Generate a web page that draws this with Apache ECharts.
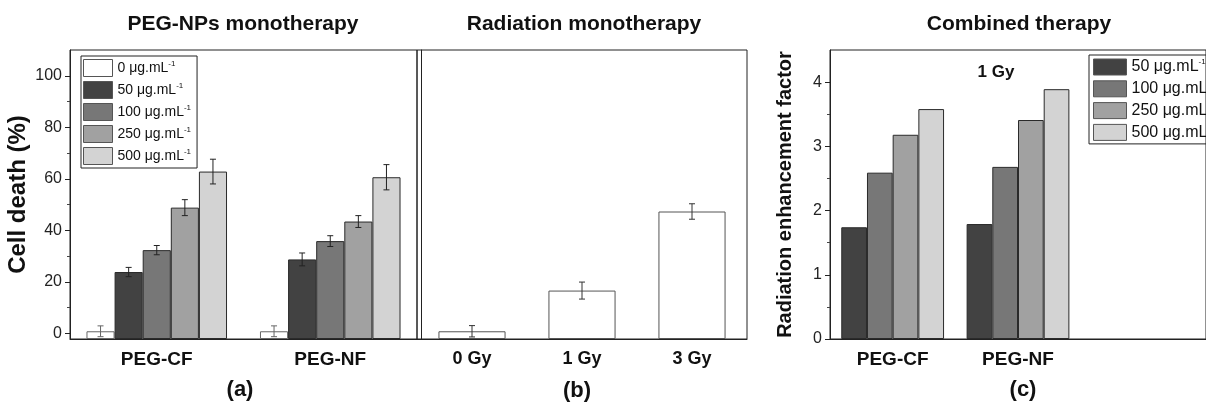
<!DOCTYPE html>
<html>
<head>
<meta charset="utf-8">
<title>Cell death / radiation enhancement</title>
<script src="https://cdn.jsdelivr.net/npm/echarts@6.0.0/dist/echarts.min.js"></script>
<style>
  html, body { margin: 0; padding: 0; background: #fff; }
  #chart { width: 1206px; height: 404px; }
</style>
</head>
<body>
<div id="chart"></div>
<script>
// ---- data ----
var groups = ['PEG-CF', 'PEG-NF'];
var concNames = ['0 μg.mL', '50 μg.mL', '100 μg.mL', '250 μg.mL', '500 μg.mL'];
var conc0 = [0.8, 0.8];
var conc50 = [23.8, 28.7];
var conc100 = [32.3, 35.8];
var conc250 = [48.8, 43.4];
var conc500 = [62.8, 60.6];
var err0 = [2.1, 2.1];
var err50 = [1.8, 2.5];
var err100 = [1.8, 2.1];
var err250 = [3.1, 2.3];
var err500 = [4.8, 4.9];

var doses = ['0 Gy', '1 Gy', '3 Gy'];
var radVals = [0.8, 16.6, 47.3];
var radErr = [2.2, 3.3, 3.0];

var groupsC = ['PEG-CF', 'PEG-NF', ''];
var ref50 = [1.74, 1.79];
var ref100 = [2.59, 2.68];
var ref250 = [3.18, 3.41];
var ref500 = [3.58, 3.89];

var deathLabels = [0, 20, 40, 60, 80, 100];
var deathMinor = [10, 30, 50, 70, 90];
var refLabels = [0, 1, 2, 3, 4];
var refMinor = [0.5, 1.5, 2.5, 3.5];

var fills = ['#ffffff', '#424242', '#777777', '#a1a1a1', '#d3d3d3'];
var FONT = '"Liberation Sans", Arial, sans-serif';

var chart = echarts.init(document.getElementById('chart'));

// error bars drawn over grouped bars
function errSeries(vals, errs, idx, nBars, gap, xi, yi, color) {
    var data = [];
    for (var i = 0; i < vals.length; i++) data.push([i, vals[i], errs[i]]);
    return {
        type: 'custom', xAxisIndex: xi, yAxisIndex: yi, z: 5, silent: true,
        data: data,
        renderItem: function (params, api) {
            var c = api.value(0), v = api.value(1), e = api.value(2);
            var band = api.size([1, 0])[0];
            var bw = band * (1 - gap) / nBars;
            var x = api.coord([c, v])[0] + (idx - (nBars - 1) / 2) * bw;
            var yt = api.coord([c, v + e])[1];
            var yb = api.coord([c, v - e])[1];
            var st = { stroke: color, lineWidth: 1 };
            return { type: 'group', children: [
                { type: 'line', shape: { x1: x, y1: yt, x2: x, y2: yb }, style: st },
                { type: 'line', shape: { x1: x - 3, y1: yt, x2: x + 3, y2: yt }, style: st },
                { type: 'line', shape: { x1: x - 3, y1: yb, x2: x + 3, y2: yb }, style: st }
            ]};
        }
    };
}

function barSeries(name, vals, color, xi, yi, gap, border) {
    return {
        name: name, type: 'bar', xAxisIndex: xi, yAxisIndex: yi,
        data: vals, barGap: 0, barCategoryGap: gap,
        itemStyle: { color: color, borderColor: border || '#2a2a2a', borderWidth: 1 }
    };
}

var legendFmt = function (name) { return '{t|' + name + '}{s|-1}'; };
function legendRich(fs) {
    return {
        t: { fontSize: fs, fontFamily: FONT, color: '#111', lineHeight: fs + 2 },
        s: { fontSize: 8, fontFamily: FONT, color: '#111', lineHeight: 8, verticalAlign: 'top' }
    };
}

var tickLbl = { fontSize: 16, color: '#222', fontFamily: FONT };
function catLbl(fs) {
    return { fontSize: fs, fontWeight: 'bold', color: '#111', fontFamily: FONT, margin: 11 };
}
var axLine = { show: true, onZero: false, lineStyle: { color: '#222', width: 1 } };
var noLine = { show: false, onZero: false };

var aGap = 0.19, bGap = 0.39, cGap = 0.18;
var titleStyle = { fontSize: 21, fontWeight: 'bold', color: '#111' };
var panelStyle = { fontSize: 22, fontWeight: 'bold', color: '#111' };

var option = {
    animation: false,
    textStyle: { fontFamily: FONT },
    title: [
        { text: 'PEG-NPs monotherapy', left: 243, top: 14, textAlign: 'center', padding: 0, textStyle: titleStyle },
        { text: 'Radiation monotherapy', left: 584, top: 14, textAlign: 'center', padding: 0, textStyle: titleStyle },
        { text: 'Combined therapy', left: 1019, top: 14, textAlign: 'center', padding: 0, textStyle: titleStyle },
        { text: '1 Gy', left: 996, top: 64, textAlign: 'center', padding: 0,
          textStyle: { fontSize: 17, fontWeight: 'bold', color: '#111' } },
        { text: '(a)', left: 240, top: 379, textAlign: 'center', padding: 0, textStyle: panelStyle },
        { text: '(b)', left: 577, top: 380, textAlign: 'center', padding: 0, textStyle: panelStyle },
        { text: '(c)', left: 1023, top: 379, textAlign: 'center', padding: 0, textStyle: panelStyle }
    ],
    legend: [
        { data: concNames, orient: 'vertical', left: 81, top: 56, icon: 'rect',
          itemWidth: 29, itemHeight: 17, itemGap: 4, padding: [3, 6, 3, 2],
          borderColor: '#222', borderWidth: 1, selectedMode: false,
          itemStyle: { borderColor: '#555', borderWidth: 1 },
          formatter: legendFmt, textStyle: { rich: legendRich(14) } },
        { data: concNames.slice(1), orient: 'vertical', left: 1089, top: 55, icon: 'rect',
          itemWidth: 33, itemHeight: 16, itemGap: 4.3, padding: [3, 30, 3, 4],
          borderColor: '#222', borderWidth: 1, selectedMode: false,
          itemStyle: { borderColor: '#555', borderWidth: 1 },
          formatter: legendFmt, textStyle: { rich: legendRich(16) } }
    ],
    grid: [
        { left: 70, right: 1206 - 417, top: 50, bottom: 65, show: true, borderColor: '#222', borderWidth: 1 },
        { left: 417, right: 1206 - 747, top: 50, bottom: 65, show: true, borderColor: '#222', borderWidth: 1 },
        { left: 830, right: -28, top: 50, bottom: 65, show: true, borderColor: '#222', borderWidth: 1 }
    ],
    xAxis: [
        { type: 'category', gridIndex: 0, position: 'bottom', data: groups, axisLine: axLine,
          axisTick: { alignWithLabel: true, length: 6, lineStyle: { color: '#222' } },
          axisLabel: catLbl(19) },
        { type: 'category', gridIndex: 0, position: 'bottom', data: groups, axisLine: noLine,
          axisTick: { length: 3, lineStyle: { color: '#444' } }, axisLabel: { show: false } },
        { type: 'category', gridIndex: 1, position: 'bottom', data: doses, axisLine: axLine,
          axisTick: { alignWithLabel: true, length: 6, lineStyle: { color: '#222' } },
          axisLabel: catLbl(18) },
        { type: 'category', gridIndex: 1, position: 'bottom', data: doses, axisLine: noLine,
          axisTick: { length: 3, lineStyle: { color: '#444' } }, axisLabel: { show: false } },
        { type: 'category', gridIndex: 2, position: 'bottom', data: groupsC, axisLine: axLine,
          axisTick: { alignWithLabel: true, length: 6, lineStyle: { color: '#222' } },
          axisLabel: catLbl(19) },
        { type: 'category', gridIndex: 2, position: 'bottom', data: groupsC, axisLine: noLine,
          axisTick: { length: 3, lineStyle: { color: '#444' } }, axisLabel: { show: false } }
    ],
    yAxis: [
        { type: 'value', gridIndex: 0, position: 'left', min: -2.2, max: 110, startValue: -2.2,
          axisLine: axLine, splitLine: { show: false },
          axisTick: { show: true, length: 5, customValues: deathLabels, lineStyle: { color: '#222' } },
          axisLabel: Object.assign({ customValues: deathLabels, margin: 8 }, tickLbl),
          name: 'Cell death (%)', nameLocation: 'middle', nameGap: 40,
          nameTextStyle: { fontSize: 24, fontWeight: 'bold', color: '#111' } },
        { type: 'value', gridIndex: 0, position: 'left', min: -2.2, max: 110,
          axisLine: noLine, splitLine: { show: false },
          axisTick: { show: true, length: 3, customValues: deathMinor, lineStyle: { color: '#444' } },
          axisLabel: { show: false } },
        { type: 'value', gridIndex: 1, position: 'left', min: -2.2, max: 110, startValue: -2.2, offset: -4,
          axisLine: axLine, splitLine: { show: false },
          axisTick: { show: false }, axisLabel: { show: false } },
        { type: 'value', gridIndex: 2, position: 'left', min: 0, max: 4.5, axisLine: axLine, splitLine: { show: false },
          axisTick: { show: true, length: 5, customValues: refLabels, lineStyle: { color: '#222' } },
          axisLabel: Object.assign({ customValues: refLabels, margin: 8 }, tickLbl),
          name: 'Radiation enhancement factor', nameLocation: 'middle', nameGap: 35,
          nameTextStyle: { fontSize: 20, fontWeight: 'bold', color: '#111' } },
        { type: 'value', gridIndex: 2, position: 'left', min: 0, max: 4.5, axisLine: noLine, splitLine: { show: false },
          axisTick: { show: true, length: 3, customValues: refMinor, lineStyle: { color: '#444' } },
          axisLabel: { show: false } }
    ],
    series: [
        barSeries(concNames[0], conc0, fills[0], 0, 0, '19%', '#666'),
        barSeries(concNames[1], conc50, fills[1], 0, 0, '19%'),
        barSeries(concNames[2], conc100, fills[2], 0, 0, '19%'),
        barSeries(concNames[3], conc250, fills[3], 0, 0, '19%'),
        barSeries(concNames[4], conc500, fills[4], 0, 0, '19%'),
        errSeries(conc0, err0, 0, 5, aGap, 0, 0, '#666'),
        errSeries(conc50, err50, 1, 5, aGap, 0, 0, '#222'),
        errSeries(conc100, err100, 2, 5, aGap, 0, 0, '#222'),
        errSeries(conc250, err250, 3, 5, aGap, 0, 0, '#222'),
        errSeries(conc500, err500, 4, 5, aGap, 0, 0, '#222'),

        barSeries('Radiation', radVals, '#ffffff', 2, 2, '39%', '#555'),
        errSeries(radVals, radErr, 0, 1, bGap, 2, 2, '#333'),

        barSeries(concNames[1], ref50, fills[1], 4, 3, '18%'),
        barSeries(concNames[2], ref100, fills[2], 4, 3, '18%'),
        barSeries(concNames[3], ref250, fills[3], 4, 3, '18%'),
        barSeries(concNames[4], ref500, fills[4], 4, 3, '18%')
    ]
};

chart.setOption(option);
</script>
</body>
</html>
